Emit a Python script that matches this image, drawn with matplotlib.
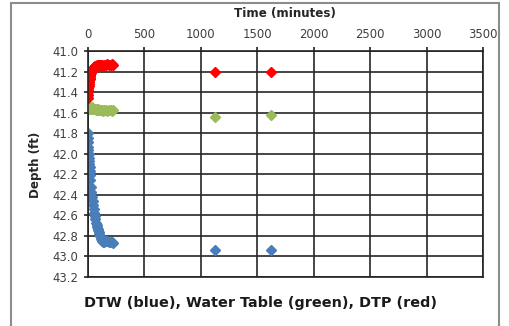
import matplotlib
matplotlib.use('Agg')
import matplotlib.pyplot as plt
from matplotlib.patches import Rectangle

# time in minutes, depth in ft
time_min = [0, 2, 4, 6, 8, 10, 12, 14, 16, 18, 20, 23, 26, 30, 35, 40, 45, 50, 55, 60,
            65, 70, 75, 80, 85, 90, 95, 100, 105, 110, 120, 130, 140, 150, 160, 175,
            190, 205, 220, 230, 1127, 1624]

dtw = [41.80, 41.85, 41.89, 41.93, 41.96, 42.00, 42.04, 42.07, 42.10, 42.13, 42.17,
       42.21, 42.26, 42.32, 42.37, 42.42, 42.46, 42.50, 42.54, 42.58, 42.61, 42.64,
       42.67, 42.69, 42.71, 42.73, 42.74, 42.76, 42.78, 42.80, 42.83, 42.85, 42.86,
       42.86, 42.85, 42.85, 42.86, 42.86, 42.86, 42.87, 42.94, 42.94]

water_table = [41.55, 41.55, 41.55, 41.55, 41.55, 41.55, 41.55, 41.55, 41.55, 41.56,
               41.55, 41.56, 41.56, 41.56, 41.56, 41.55, 41.56, 41.56, 41.56, 41.56,
               41.56, 41.56, 41.57, 41.56, 41.57, 41.57, 41.56, 41.57, 41.57, 41.57,
               41.57, 41.57, 41.58, 41.57, 41.57, 41.58, 41.57, 41.57, 41.58, 41.57,
               41.64, 41.62]

dtp = [41.46, 41.43, 41.40, 41.38, 41.36, 41.34, 41.32, 41.30, 41.29, 41.27, 41.26,
       41.24, 41.23, 41.21, 41.20, 41.19, 41.18, 41.17, 41.16, 41.16, 41.15, 41.15,
       41.15, 41.15, 41.14, 41.15, 41.14, 41.14, 41.15, 41.14, 41.14, 41.14, 41.15,
       41.14, 41.14, 41.13, 41.14, 41.14, 41.13, 41.14, 41.20, 41.20]

x_ticks = [0, 500, 1000, 1500, 2000, 2500, 3000, 3500]
y_ticks = [41.0, 41.2, 41.4, 41.6, 41.8, 42.0, 42.2, 42.4, 42.6, 42.8, 43.0, 43.2]

W, H = 509, 326
fig = plt.figure(figsize=(W / 100, H / 100), dpi=100)

# grey outer frame
fig.patches.append(Rectangle((11 / W, -0.05), 488 / W, 1.05 - 3 / H,
                             transform=fig.transFigure, fill=False,
                             edgecolor='#8c8c8c', lw=1.5))

ax = fig.add_axes([87.5 / W, 1 - 277 / H, (483 - 87.5) / W, (277 - 51) / H])

ax.plot(time_min, dtw, 'D', color='#4a7ebb', ms=5.2, mec='#4a7ebb')
ax.plot(time_min, water_table, 'D', color='#9bbb59', ms=5.2, mec='#9bbb59')
ax.plot(time_min, dtp, 'D', color='#ff0000', ms=5.2, mec='#ff0000')

ax.set_xlim(0, 3500)
ax.set_ylim(43.2, 41.0)
ax.set_xticks(x_ticks)
ax.set_yticks(y_ticks)
ax.set_yticklabels(['%.1f' % v for v in y_ticks])
ax.xaxis.tick_top()
ax.tick_params(axis='both', labelsize=8.4, labelcolor='#404040', color='#222222',
               length=3, width=1.2, direction='out')
ax.tick_params(axis='x', pad=4)
ax.grid(True, color='#262626', lw=1.2)
ax.set_axisbelow(True)
for s in ax.spines.values():
    s.set_color('#222222')
    s.set_linewidth(1.2)

fig.text(285 / W, 1 - 14 / H, 'Time (minutes)', ha='center', va='center',
         fontsize=8.6, fontweight='bold', color='#262626')
fig.text(35 / W, 1 - 165 / H, 'Depth (ft)', ha='center', va='center',
         rotation=90, fontsize=8.6, fontweight='bold', color='#262626')
fig.text(261 / W, 1 - 303 / H, 'DTW (blue), Water Table (green), DTP (red)',
         ha='center', va='center', fontsize=10.4, fontweight='bold', color='#1a1a1a')

fig.savefig('out.png', dpi=100)
